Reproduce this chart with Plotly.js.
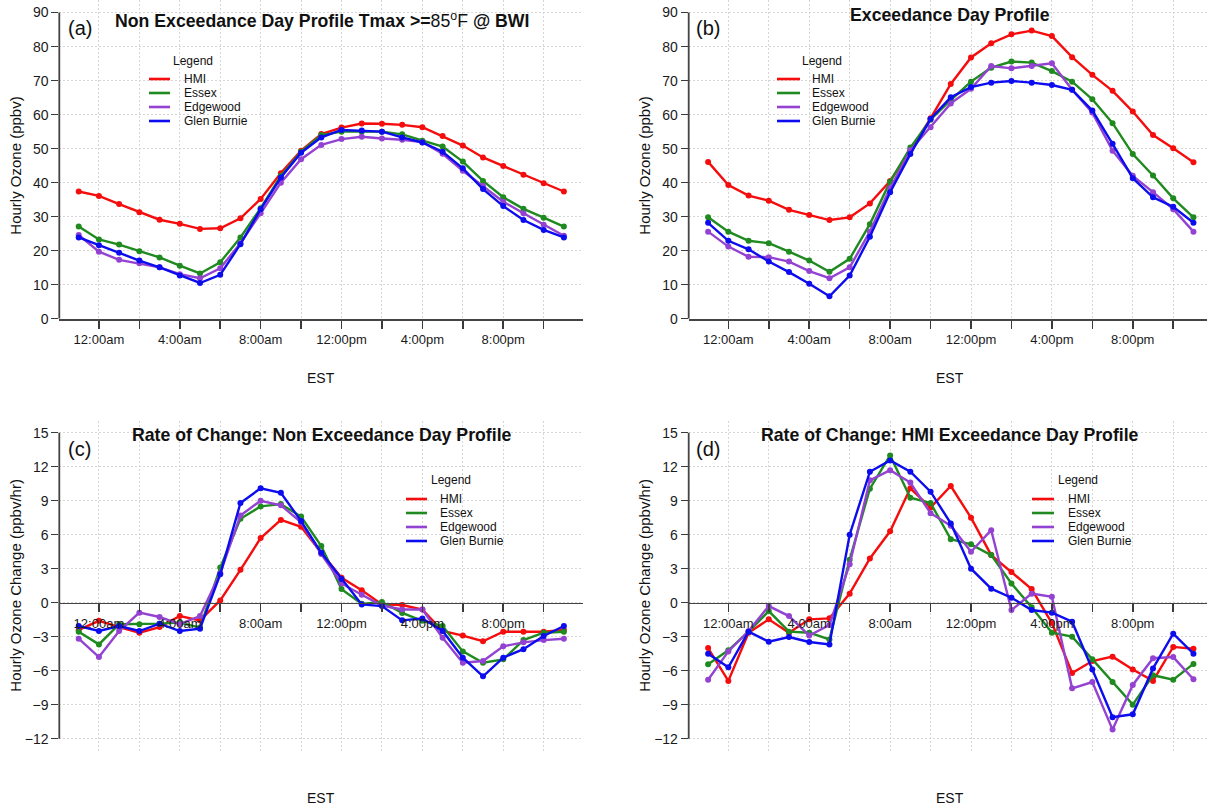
<!DOCTYPE html>
<html><head><meta charset="utf-8">
<script src="https://cdn.plot.ly/plotly-3.0.1.min.js"></script>
<style>html,body{margin:0;padding:0;overflow:hidden;background:#fff}</style>
</head><body><div id="chart" style="width:1207px;height:807px"></div>
<script>
// ---- data ----
const hours = [-1,0,1,2,3,4,5,6,7,8,9,10,11,12,13,14,15,16,17,18,19,20,21,22,23];
const labelHours = [0,4,8,12,16,20];
const tickLabels = ['12:00am','4:00am','8:00am','12:00pm','4:00pm','8:00pm'];
const minorHours = [2,6,10,14,18,22];
const ozoneTicks = [0,10,20,30,40,50,60,70,80,90];
const rateTicks = [-12,-9,-6,-3,0,3,6,9,12,15];
const seriesNames = ['HMI','Essex','Edgewood','Glen Burnie'];

// (a) Non exceedance day profile (ppbv)
const nonExcHMI = [37.4,36.1,33.7,31.3,29.1,27.9,26.4,26.6,29.5,35.2,42.8,49.4,54.3,56.2,57.4,57.3,57.0,56.3,53.7,50.9,47.4,44.9,42.3,39.8,37.4];
const nonExcEssex = [27.1,23.3,21.8,19.8,18.0,15.6,13.3,16.6,23.9,32.5,42.0,49.1,54.0,55.0,55.0,55.0,54.2,52.3,50.6,46.2,40.5,35.7,32.3,29.7,27.1];
const nonExcEdgewood = [24.6,19.7,17.3,16.3,15.1,13.1,11.9,14.8,22.2,31.0,40.0,46.9,51.1,52.8,53.5,53.0,52.6,51.9,48.5,43.5,39.0,34.4,31.0,27.6,24.4];
const nonExcGlenBurnie = [23.9,21.6,19.4,17.1,15.1,12.7,10.5,12.9,21.9,32.2,41.5,48.8,53.3,55.5,55.3,55.0,53.3,51.8,49.1,44.2,38.1,33.1,29.0,26.1,23.9];

// (b) Exceedance day profile (ppbv)
const excHMI = [46.1,39.3,36.2,34.7,32.0,30.5,29.0,29.8,33.9,40.5,49.5,58.9,69.0,76.8,81.0,83.6,84.7,83.1,76.9,71.7,67.0,60.9,54.0,50.1,46.0];
const excEssex = [29.8,25.6,22.9,22.2,19.7,17.1,13.8,17.6,27.8,40.3,50.3,58.5,64.3,69.7,73.8,75.6,75.3,72.8,69.7,64.5,57.5,48.4,42.1,35.4,29.8];
const excEdgewood = [25.6,21.2,18.2,18.1,16.8,14.0,11.9,15.1,25.6,38.4,49.5,56.3,63.3,67.6,74.3,73.6,74.3,75.1,67.3,60.6,49.4,42.0,37.2,32.2,25.6];
const excGlenBurnie = [28.2,22.9,20.4,16.8,13.7,10.3,6.6,12.7,24.1,37.2,48.4,58.7,65.1,68.1,69.4,69.9,69.4,68.7,67.3,61.2,51.4,41.3,35.7,32.9,28.2];

// (c) Rate of change, non exceedance day (ppbv/hr)
const rocNonHMI = [-2.4,-1.6,-2.15,-2.65,-2.15,-1.18,-1.56,0.2,2.9,5.7,7.3,6.7,4.4,2.2,1.1,-0.15,-0.2,-0.6,-2.5,-2.9,-3.4,-2.56,-2.56,-2.56,-2.4];
const rocNonEssex = [-2.56,-3.68,-1.9,-1.9,-1.85,-1.76,-2.2,3.1,7.4,8.5,8.7,7.6,5.0,1.2,-0.1,0.06,-0.9,-1.6,-2.06,-4.3,-5.3,-5.0,-3.3,-2.65,-2.56];
const rocNonEdgewood = [-3.18,-4.8,-2.5,-0.88,-1.26,-1.9,-1.18,2.6,7.7,9.0,8.6,7.1,4.3,1.7,0.7,-0.25,-0.6,-0.6,-3.1,-5.3,-5.15,-3.85,-3.5,-3.3,-3.18];
const rocNonGlenBurnie = [-2.06,-2.5,-2.06,-2.5,-1.85,-2.5,-2.3,2.5,8.8,10.1,9.7,7.2,4.4,2.1,-0.15,-0.3,-1.56,-1.4,-2.5,-4.85,-6.5,-4.85,-4.1,-2.94,-2.06];

// (d) Rate of change, HMI exceedance day (ppbv/hr)
const rocExcHMI = [-4.0,-6.9,-2.65,-1.47,-2.65,-1.47,-1.38,0.8,3.9,6.3,10.1,8.4,10.3,7.5,4.2,2.7,1.2,-1.8,-6.2,-5.15,-4.76,-5.9,-6.9,-3.9,-4.06];
const rocExcEssex = [-5.44,-4.2,-2.56,-0.74,-2.56,-2.65,-3.24,3.8,10.06,13.0,9.26,8.8,5.6,5.15,4.2,1.7,-0.4,-2.65,-3.0,-5.0,-7.0,-9.0,-6.4,-6.8,-5.4];
const rocExcEdgewood = [-6.8,-4.3,-2.5,-0.3,-1.18,-2.9,-1.97,3.4,10.8,11.7,10.6,7.9,6.8,4.5,6.4,-0.65,0.8,0.53,-7.56,-7.0,-11.2,-7.26,-4.9,-4.8,-6.76];
const rocExcGlenBurnie = [-4.5,-5.7,-2.56,-3.44,-3.03,-3.47,-3.68,6.0,11.56,12.56,11.56,9.8,7.0,3.0,1.24,0.44,-0.65,-0.88,-1.68,-5.9,-10.1,-9.85,-5.8,-2.74,-4.5];

// ---- styling ----
const colors = ['#f50d0d','#1f8a1f','#9442d2','#0c0cee'];
const W = 1207, H = 807;
const px = x => x / W;
const py = y => 1 - y / H;
const FONT = 'Liberation Sans, Arial, Helvetica, sans-serif';
const GRID = '#d6d6d6';
const DASH = '2px,2px';

const panels = [
  {xa:'x', ya:'y', series:[nonExcHMI,nonExcEssex,nonExcEdgewood,nonExcGlenBurnie]},
  {xa:'x2', ya:'y2', series:[excHMI,excEssex,excEdgewood,excGlenBurnie]},
  {xa:'x3', ya:'y3', series:[rocNonHMI,rocNonEssex,rocNonEdgewood,rocNonGlenBurnie]},
  {xa:'x4', ya:'y4', series:[rocExcHMI,rocExcEssex,rocExcEdgewood,rocExcGlenBurnie]}
];

const traces = [];
panels.forEach(p => {
  p.series.forEach((vals, i) => {
    traces.push({
      type:'scatter', mode:'lines+markers', x: hours, y: vals,
      xaxis: p.xa, yaxis: p.ya, name: seriesNames[i], showlegend:false,
      line:{color: colors[i], width: 2.4},
      marker:{color: colors[i], size: 6},
      hoverinfo:'skip'
    });
  });
});

const gridStyle = {showgrid:true, gridcolor:GRID, griddash:DASH, gridwidth:1, zeroline:false};
function xAxis(domain, range, extra) {
  return Object.assign({
    domain, range, tickmode:'array', tickvals: labelHours, ticktext: tickLabels,
    ticks:'outside', ticklen:8, tickwidth:1.5, tickcolor:'#3a3a3a',
    minor:{tickmode:'array', tickvals: minorHours, ticks:'outside', ticklen:8, tickwidth:1.5,
      tickcolor:'#3a3a3a', showgrid:true, gridcolor:GRID, griddash:DASH, gridwidth:1},
    showline:true, linecolor:'#444', linewidth:1.8,
    tickfont:{family:FONT, size:13, color:'#1a1a1a'}, fixedrange:true
  }, gridStyle, extra);
}
function yAxis(domain, range, vals, extra) {
  return Object.assign({
    domain, range, tickmode:'array', tickvals: vals,
    ticks:'outside', ticklen:7, tickwidth:1.5, tickcolor:'#3a3a3a',
    showline:false,
    tickfont:{family:FONT, size:14, color:'#1a1a1a'}, fixedrange:true
  }, gridStyle, extra);
}

const leftDom = [px(59.3), px(583.3)];
const rightDom = [px(688.7), 1];
const topDom = [py(318.7), 1];
const botDom = [py(750.9), py(420.5)];
const rangeL = [-1.96, 23.96];
const rangeR = [-1.96, 23.67];
const rateRange = [-13.08, 16.08];
const zeroPos = botDom[0] + (0 - rateRange[0]) / (rateRange[1] - rateRange[0]) * (botDom[1] - botDom[0]);

const layout = {
  width: W, height: H, margin:{l:0,r:0,t:0,b:0},
  paper_bgcolor:'#fff', plot_bgcolor:'#fff', showlegend:false,
  font:{family:FONT, color:'#111'},
  xaxis: xAxis(leftDom, rangeL, {anchor:'y'}),
  yaxis: yAxis(topDom, [0, 93.7], ozoneTicks, {anchor:'x'}),
  xaxis2: xAxis(rightDom, rangeR, {anchor:'y2'}),
  yaxis2: yAxis(topDom, [0, 93.7], ozoneTicks, {anchor:'x2'}),
  xaxis3: xAxis(leftDom, rangeL, {anchor:'free', position: zeroPos}),
  yaxis3: yAxis(botDom, rateRange, rateTicks, {anchor:'x3'}),
  xaxis4: xAxis(rightDom, rangeR, {anchor:'free', position: zeroPos}),
  yaxis4: yAxis(botDom, rateRange, rateTicks, {anchor:'x4'}),
  shapes: [], annotations: []
};

// y-axis lines spanning first to last tick
[['x','y',ozoneTicks],['x2','y2',ozoneTicks],['x3','y3',rateTicks],['x4','y4',rateTicks]].forEach(([xa,ya,t]) => {
  layout.shapes.push({type:'line', xref: xa + ' domain', yref: ya, x0:0, x1:0,
    y0: t[0], y1: t[t.length-1], line:{color:'#444', width:1.8}});
});

function ann(text, x, y, size, opts) {
  layout.annotations.push(Object.assign({text, x: px(x), y: py(y), xref:'paper', yref:'paper',
    showarrow:false, xanchor:'center', yanchor:'middle',
    font:{family:FONT, size, color:'#111'}}, opts || {}));
}

// titles
ann('<b>Non Exceedance Day Profile Tmax &gt;=</b>85<sup>o</sup>F<b> @ BWI</b>', 322, 20, 17.7);
ann('<b>Exceedance Day Profile</b>', 950, 14.5, 17.7);
ann('<b>Rate of Change: Non Exceedance Day Profile</b>', 322, 434.5, 17.7);
ann('<b>Rate of Change: HMI Exceedance Day Profile</b>', 950, 434.5, 17.7);
// panel letters
ann('(a)', 79.5, 28, 20);
ann('(b)', 708, 28, 20);
ann('(c)', 79.5, 449, 20);
ann('(d)', 708, 449, 20);
// axis titles
ann('EST', 321, 378, 14);
ann('EST', 950, 378, 14);
ann('EST', 321, 797.5, 14);
ann('EST', 950, 797.5, 14);
ann('Hourly Ozone (ppbv)', 16, 165.7, 15, {textangle:-90});
ann('Hourly Ozone (ppbv)', 645, 165.7, 15, {textangle:-90});
ann('Hourly Ozone Change (ppbv/hr)', 16, 585.7, 15, {textangle:-90});
ann('Hourly Ozone Change (ppbv/hr)', 645, 585.7, 15, {textangle:-90});

// legends (drawn per panel)
const legends = [
  {tx:193, ty:61, l0:149, l1:170, txt:182, r0:79},
  {tx:822, ty:61, l0:777, l1:800, txt:810, r0:79},
  {tx:451, ty:480, l0:406, l1:427, txt:438, r0:499},
  {tx:1078, ty:480, l0:1032, l1:1054, txt:1066, r0:499}
];
legends.forEach(lg => {
  ann('Legend', lg.tx, lg.ty, 12);
  seriesNames.forEach((name, i) => {
    const ry = lg.r0 + 14 * i;
    layout.shapes.push({type:'line', xref:'paper', yref:'paper', x0: px(lg.l0), x1: px(lg.l1),
      y0: py(ry), y1: py(ry), line:{color: colors[i], width: 2.6}});
    ann(name, lg.txt, ry, 12, {xanchor:'left'});
  });
});

Plotly.newPlot('chart', traces, layout, {staticPlot:true, displayModeBar:false});
</script>
</body></html>
